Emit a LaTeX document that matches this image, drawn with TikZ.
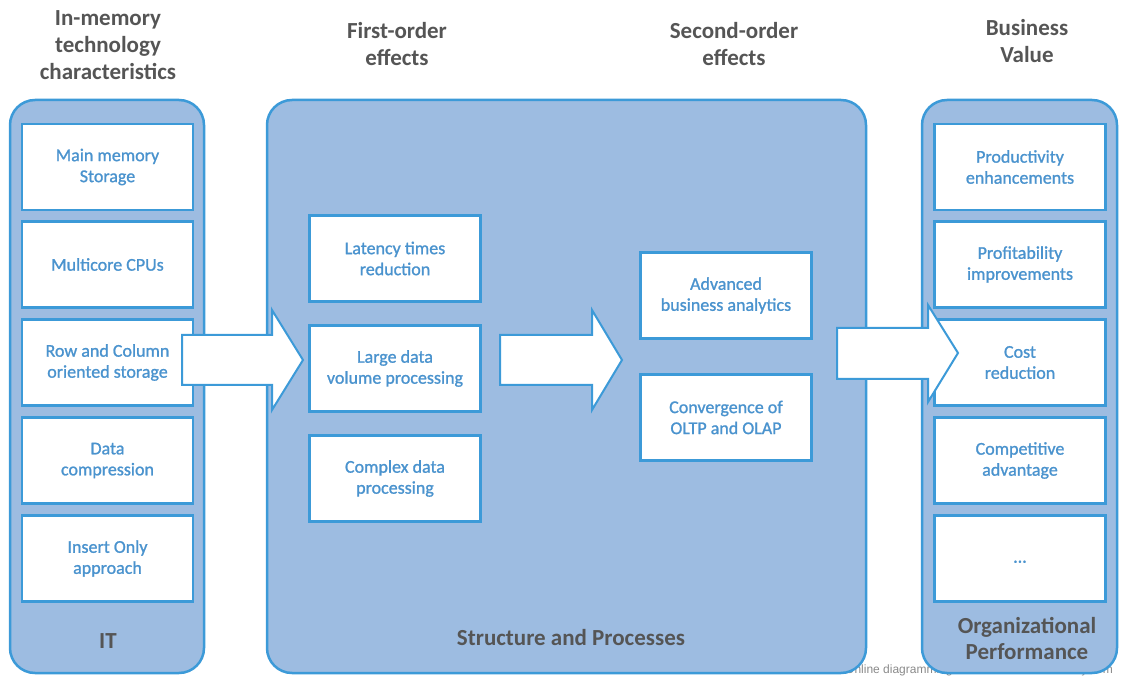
\documentclass[tikz,border=0pt]{standalone}
\usepackage{fontspec}
\setmainfont{Carlito}
\newfontfamily\itemfont{Carlito}[BoldFont=Carlito, BoldFeatures={FakeBold=1.1}]
\newfontfamily\markfont{Liberation Sans}
\definecolor{panelfill}{HTML}{9DBCE1}
\definecolor{edgeblue}{HTML}{3C9AD8}
\definecolor{boxtext}{HTML}{4A93CE}
\definecolor{headtext}{HTML}{555555}
\definecolor{marktext}{HTML}{8A8A8A}
\begin{document}
\begin{tikzpicture}[x=1pt,y=-1pt,
  panel/.style={draw=edgeblue, fill=panelfill, line width=2.5pt, rounded corners=25pt},
  item/.style={draw=edgeblue, fill=white, line width=2.5pt, minimum width=171pt,
    minimum height=86pt, inner sep=0pt, align=center, text=boxtext,
    font=\itemfont\bfseries\fontsize{18}{21}\selectfont},
  heading/.style={text=headtext, align=center, font=\fontsize{23}{27}\selectfont\bfseries},
  footer/.style={text=headtext, align=center, font=\fontsize{23}{26}\selectfont\bfseries},
  watermark/.style={text=marktext, font=\markfont\fontsize{12}{12}\selectfont, inner sep=0pt},
  blockarrow/.style={draw=edgeblue, fill=white, line width=2pt, line join=miter}]
\useasboundingbox (0,0) rectangle (1125,676);

% column headings
\node[heading] (h1) at (108,45) {In-memory\\technology\\characteristics};
\node[heading] (h2) at (397,44.5) {First-order\\effects};
\node[heading] (h3) at (734,44) {Second-order\\effects};
\node[heading] (h4) at (1027,41.5) {Business\\Value};

% tool watermark, mostly hidden behind the panels
\node[watermark, anchor=west] (markl) at (845,670) {Online diagramming};
\node[watermark, anchor=east] (markr) at (1113,670) {creately.com};

% panels
\draw[panel] (10,100) rectangle (204,673);
\draw[panel] (267,100) rectangle (866,673);
\draw[panel] (922,100) rectangle (1117,673);

% left column: IT
\node[item] (l1) at (107.5,167) {Main memory\\Storage};
\node[item] (l2) at (107.5,264.5) {Multicore CPUs};
\node[item] (l3) at (107.5,362.5) {Row and Column\\oriented storage};
\node[item] (l4) at (107.5,460.5) {Data\\compression};
\node[item] (l5) at (107.5,558.5) {Insert Only\\approach};
\node[footer] (f1) at (108,641) {IT};

% middle: first- and second-order effects
\node[item] (m1) at (395,258.5) {Latency times\\reduction};
\node[item] (m2) at (395,368.5) {Large data\\volume processing};
\node[item] (m3) at (395,478.5) {Complex data\\processing};
\node[item] (s1) at (726,295.5) {Advanced\\business analytics};
\node[item] (s2) at (726,417.5) {Convergence of\\OLTP and OLAP};
\node[footer] (f2) at (571,638) {Structure and Processes};

% right column: business value
\node[item] (r1) at (1020,167) {Productivity\\enhancements};
\node[item] (r2) at (1020,264.5) {Profitability\\improvements};
\node[item] (r3) at (1020,362.5) {Cost\\reduction};
\node[item] (r4) at (1020,460.5) {Competitive\\advantage};
\node[item] (r5) at (1020,558.5) {\strut\dots};
\node[footer] (f3) at (1027,638.5) {Organizational\\Performance};

% block arrows between the stages
\draw[blockarrow] (182,335) -- (272,335) -- (272,310) -- (303,360) -- (272,410)
  -- (272,385) -- (182,385) -- cycle;
\draw[blockarrow] (500,335) -- (592,335) -- (592,310) -- (622,360) -- (592,410)
  -- (592,385) -- (500,385) -- cycle;
\draw[blockarrow] (837,328) -- (928,328) -- (928,305) -- (958,353) -- (928,402)
  -- (928,379) -- (837,379) -- cycle;
\end{tikzpicture}
\end{document}
